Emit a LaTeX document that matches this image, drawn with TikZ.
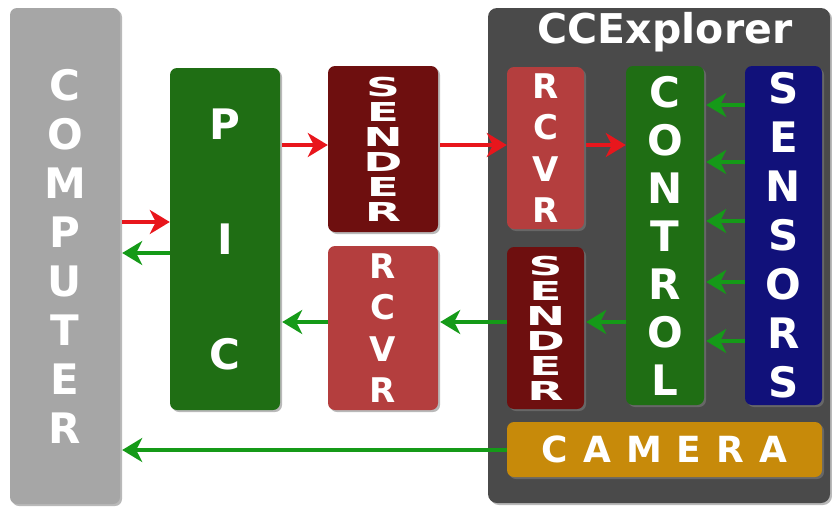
\documentclass[tikz,border=0pt]{standalone}
\usepackage{fontspec}
\usepackage{graphicx}
\setmainfont{DejaVu Sans}
\usetikzlibrary{arrows.meta,shadows}
\definecolor{cgray}{HTML}{A6A6A6}
\definecolor{cgreen}{HTML}{1F6E14}
\definecolor{cdred}{HTML}{6E0F0F}
\definecolor{clred}{HTML}{B43E3E}
\definecolor{cnavy}{HTML}{11117A}
\definecolor{cgold}{HTML}{C78A0A}
\definecolor{cpanel}{HTML}{4A4A4A}
\definecolor{arrred}{HTML}{E8161C}
\definecolor{arrgreen}{HTML}{159A18}
\newcommand\sq[1]{\scalebox{1.12}[0.62]{#1}}
\newcommand\csp{\hspace{15pt}}
\tikzset{
  box/.style={rounded corners=7pt, inner sep=0pt, text=white, align=center,
    drop shadow={shadow xshift=2pt,shadow yshift=-2pt,opacity=0.55}},
  bigtxt/.style={font=\bfseries\fontsize{42}{49}\selectfont},
  rcvrtxt/.style={font=\bfseries\fontsize{34}{41.5}\selectfont},
  sendtxt/.style={font=\bfseries\fontsize{42}{25}\selectfont},
  redarr/.style={draw=arrred, line width=4.5pt, -{Stealth[length=20pt,width=24pt,inset=6pt]}},
  grnarr/.style={draw=arrgreen, line width=4.5pt, -{Stealth[length=20pt,width=24pt,inset=6pt]}},
}
\begin{document}
\begin{tikzpicture}[x=1pt,y=-1pt]
\useasboundingbox (0,0) rectangle (832,506);
\fill[white] (0,0) rectangle (832,506);
% panel
\node[box, fill=cpanel, minimum width=342pt, minimum height=495pt, rounded corners=9pt] (panel) at (659,255.5) {};
\node[text=white, font=\bfseries\fontsize{41}{44}\selectfont] (title) at (665,32) {CCExplorer};
% boxes
\node[box, bigtxt, fill=cgray, minimum width=110pt, minimum height=496pt] (comp) at (65,256) {C\\O\\M\\P\\U\\T\\E\\R};
\node[box, fill=cgreen, minimum width=110pt, minimum height=342pt, font=\bfseries\fontsize{42}{115}\selectfont] (pic) at (225,239) {P\\I\\C};
\node[box, sendtxt, fill=cdred, minimum width=110pt, minimum height=166pt] (sendA) at (383,149) {\sq{S}\\\sq{E}\\\sq{N}\\\sq{D}\\\sq{E}\\\sq{R}};
\node[box, rcvrtxt, fill=clred, minimum width=110pt, minimum height=164pt] (rcvrA) at (383,328) {R\\C\\V\\R};
\node[box, rcvrtxt, fill=clred, minimum width=77pt, minimum height=162pt] (rcvrB) at (545.5,148) {R\\C\\V\\R};
\node[box, sendtxt, fill=cdred, minimum width=77pt, minimum height=162pt] (sendB) at (545.5,328) {\sq{S}\\\sq{E}\\\sq{N}\\\sq{D}\\\sq{E}\\\sq{R}};
\node[box, bigtxt, fill=cgreen, minimum width=78pt, minimum height=339pt, font=\bfseries\fontsize{42}{48}\selectfont] (ctrl) at (665,235.5) {C\\O\\N\\T\\R\\O\\L};
\node[box, bigtxt, fill=cnavy, minimum width=77pt, minimum height=339pt] (sens) at (783.5,235.5) {S\\E\\N\\S\\O\\R\\S};
\node[box, fill=cgold, minimum width=315pt, minimum height=55pt, font=\bfseries\fontsize{36}{40}\selectfont] (cam) at (664.5,449.5) {C\csp A\csp M\csp E\csp R\csp A};
% arrows
\draw[redarr] ([xshift=2pt]comp.east |- 0,222) -- (pic.west |- 0,222);
\draw[grnarr] (pic.west |- 0,253) -- ([xshift=2pt]comp.east |- 0,253);
\draw[redarr] ([xshift=2pt]pic.east |- 0,145) -- (sendA.west |- 0,145);
\draw[redarr] ([xshift=2pt]sendA.east |- 0,145) -- (rcvrB.west |- 0,145);
\draw[redarr] ([xshift=2pt]rcvrB.east |- 0,145) -- (ctrl.west |- 0,145);
\foreach \yy in {105,162,221,282,341}
  \draw[grnarr] (sens.west |- 0,\yy) -- ([xshift=2pt]ctrl.east |- 0,\yy);
\draw[grnarr] (ctrl.west |- 0,322) -- ([xshift=2pt]sendB.east |- 0,322);
\draw[grnarr] (sendB.west |- 0,322) -- ([xshift=2pt]rcvrA.east |- 0,322);
\draw[grnarr] (rcvrA.west |- 0,322) -- ([xshift=2pt]pic.east |- 0,322);
\draw[grnarr] (cam.west |- 0,450) -- ([xshift=2pt]comp.east |- 0,450);
\end{tikzpicture}
\end{document}
